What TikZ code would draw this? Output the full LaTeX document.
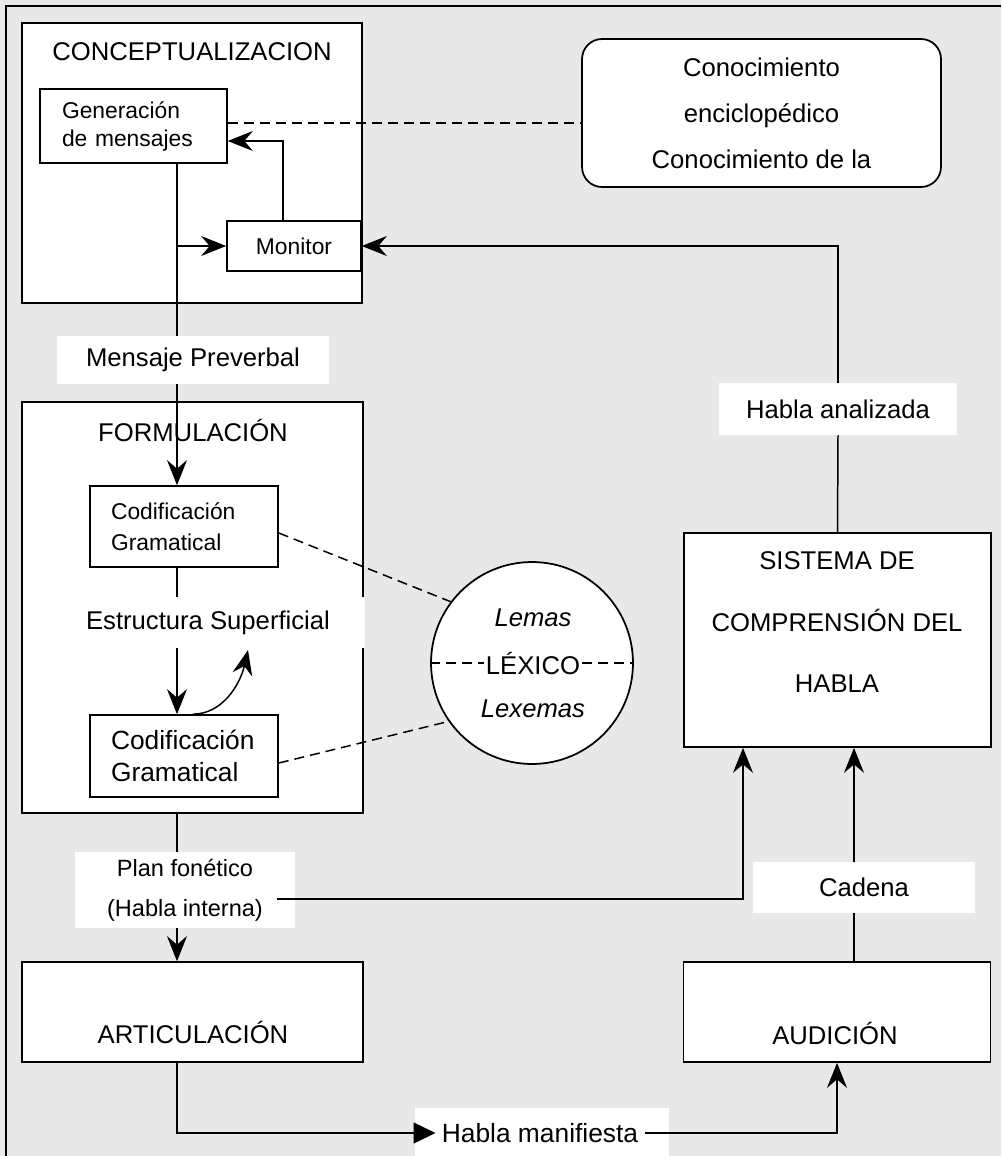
\documentclass[tikz,border=0pt]{standalone}
\usepackage{fontspec}
\setmainfont{Liberation Sans}
\usepackage{xcolor}
\usetikzlibrary{
    arrows.meta,
    positioning
}
\definecolor{bg}{HTML}{E8E8E8}
\newcommand{\txt}{\fontsize{14.6}{17.5}\selectfont}

\begin{document}
\begin{tikzpicture}[x=0.02cm, y=-0.02cm, font=\txt,
        box/.style={draw, line width=1pt, fill=white, inner sep=0pt},
        tag/.style={fill=white, inner sep=0pt},
        code/.style={box, align=left, inner xsep=0.42cm, text width=2.92cm},
        ln/.style={line width=0.85pt},
        arr/.style={ln, -{Stealth[length=0.5cm, width=0.4cm, inset=0.17cm]}},
        dsh/.style={line width=0.85pt, dash pattern=on 0.2cm off 0.12cm}]
    \fill[bg] (0,0) rectangle (1001,1156);
    \useasboundingbox (0,0) rectangle (1001,1156);
    \draw[line width=1pt] (6,1156) |- (1001,6);

    % conceptualizacion
    \node[box, minimum width=6.8cm, minimum height=5.6cm] (concep) at (192,163) {};
    \node (concepT) at (192,52) {CONCEPTUALIZACION};
    \node[box, align=left, inner xsep=0.44cm, text width=2.86cm, minimum height=1.48cm,
        font=\fontsize{13}{15.9}\selectfont] (gen) at (133.5,126) {Generación\\de mensajes};
    \node[box, minimum width=2.68cm, minimum height=1cm,
        font=\fontsize{13}{15.6}\selectfont] (mon) at (294,246) {Monitor};
    \node[box, rounded corners=0.4cm, minimum width=7.18cm, minimum height=2.96cm, align=center,
        font=\fontsize{14.6}{26.2}\selectfont] (conoc) at (761.5,113)
        {Conocimiento\\enciclopédico\\Conocimiento de la};

    % formulacion
    \node[box, minimum width=6.82cm, minimum height=8.22cm] (formul) at (192.5,607.5) {};
    \node (formulT) at (193,430) {FORMULACIÓN};
    \node[code, minimum height=1.62cm, font=\fontsize{13}{17.6}\selectfont] (cod1) at (184,526.5)
        {Codificación\\Gramatical};
    \node[code, minimum height=1.64cm, font=\fontsize{15}{18.2}\selectfont] (cod2) at (184,756)
        {Codificación\\Gramatical};

    % lexico
    \node[box, circle, minimum size=4.04cm] (lex) at (532,663) {};
    \node[font=\txt\itshape] (lem) at (533,618) {Lemas};
    \node[font=\txt\itshape] (lexm) at (533,709) {Lexemas};
    \node[fill=white, inner xsep=1pt, inner ysep=2pt] (lexT) at (533,663) {LÉXICO};

    % comprension
    \node[box, minimum width=6.14cm, minimum height=4.28cm] (sist) at (837.5,640) {};
    \node[align=center, font=\fontsize{14.6}{35}\selectfont] (sistT) at (837,622.5)
        {SISTEMA DE\\COMPRENSIÓN DEL\\HABLA};
    \node[box, minimum width=6.82cm, minimum height=2cm] (artic) at (192.5,1012) {};
    \node (articT) at (193,1032) {ARTICULACIÓN};
    \node[box, minimum width=6.14cm, minimum height=2cm] (audic) at (837,1012) {};
    \node (audicT) at (835,1033) {AUDICIÓN};

    % etiquetas
    \node[tag, minimum width=5.44cm, minimum height=0.96cm] (msg) at (193,360) {Mensaje Preverbal};
    \node[tag, minimum width=6.3cm, minimum height=1.02cm] (estr) at (208,622.5) {Estructura Superficial};
    \node[tag, minimum width=4.4cm, minimum height=1.52cm, align=center,
        font=\fontsize{13.4}{22.8}\selectfont] (plan) at (185,890) {Plan fonético\\(Habla interna)};
    \node[tag, minimum width=4.76cm, minimum height=1.04cm] (habAn) at (838,409) {Habla analizada};
    \node[tag, minimum width=4.44cm, minimum height=1.02cm] (cad) at (864,887.5) {Cadena};
    \node[tag, minimum width=5.08cm, minimum height=1.04cm] (hmBox) at (542,1134) {};
    \node[inner xsep=0.12cm, font=\fontsize{15}{18}\selectfont] (hm) at (540,1133) {Habla manifiesta};

    \coordinate (spine) at (177,0);
    \coordinate (fb) at (283,141);
    \coordinate (kn) at (0,123);
    \coordinate (pfOut) at (277,899);
    \coordinate (sIn1) at (743,0);
    \coordinate (sIn2) at (854,0);
    \coordinate (swirl) at (248,650);

    \draw[ln] (gen.south -| spine) -- (msg.north -| spine);
    \draw[arr] (msg.south -| spine) -- (cod1.north -| spine);
    \draw[arr] (spine |- mon.west) -- (mon.west);
    \draw[arr] (mon.north -| fb) |- (gen.east |- fb);
    \draw[dsh] (gen.east |- kn) -- (conoc.west |- kn);
    \draw[ln] (sist.north) -- (habAn.south);
    \draw[arr] (habAn.north) |- (mon.east);

    \draw[ln] (cod1.south -| spine) -- (estr.north -| spine);
    \draw[arr] (estr.south -| spine) -- (cod2.north -| spine);
    \draw[arr] ([xshift=0.18cm]cod2.north) .. controls +(0.58cm,0) and +(-0.16cm,-0.7cm) .. (swirl);
    \draw[dsh] ([yshift=-0.13cm]cod1.east) -- (lex.143);
    \draw[dsh] ([yshift=-0.14cm]cod2.east) -- (lex.215);
    \draw[dsh] (lex.west) -- (lexT.west);
    \draw[dsh] (lexT.east) -- (lex.east);

    \draw[ln] (formul.south -| spine) -- (plan.north -| spine);
    \draw[arr] (plan.south -| spine) -- (artic.north -| spine);
    \draw[arr] (pfOut) -| (sist.south -| sIn1);
    \draw[ln] (audic.north -| sIn2) -- (cad.south -| sIn2);
    \draw[arr] (cad.north -| sIn2) -- (sist.south -| sIn2);
    \draw[ln, -{Triangle[length=0.44cm, width=0.42cm]}] (artic.south -| spine) |- (hm.west);
    \draw[arr] (hm.east) -| (audic.south);
\end{tikzpicture}
\end{document}
